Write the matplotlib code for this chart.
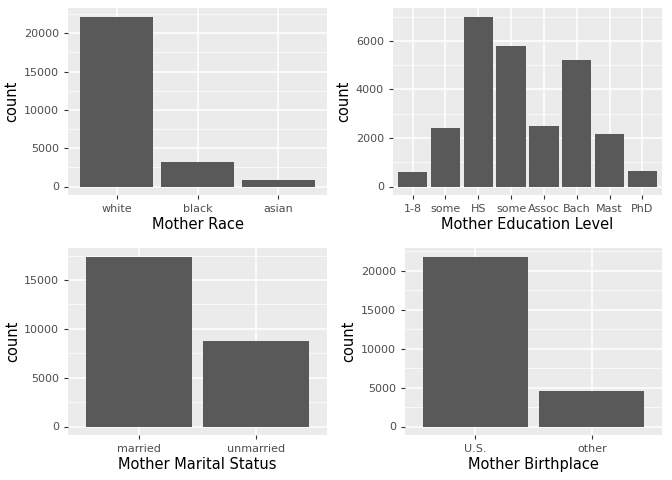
import matplotlib
matplotlib.use('Agg')
import matplotlib.pyplot as plt
import numpy as np

race_labels = ['white', 'black', 'asian']
race_counts = [22200, 3200, 800]
edu_labels = ['1-8', 'some', 'HS', 'some', 'Assoc', 'Bach', 'Mast', 'PhD']
edu_counts = [600, 2400, 7000, 5800, 2500, 5200, 2150, 650]
mar_labels = ['married', 'unmarried']
mar_counts = [17400, 8800]
birth_labels = ['U.S.', 'other']
birth_counts = [21800, 4500]

W, H = 672, 480
fig = plt.figure(figsize=(6.72, 4.8), dpi=100)

def panel(rect, labels, counts, xlabel, step):
    x0, y0, x1, y1 = rect
    ax = fig.add_axes([x0 / W, 1 - y1 / H, (x1 - x0) / W, (y1 - y0) / H])
    ax.set_facecolor('#EBEBEB')
    pos = np.arange(len(labels))
    ax.bar(pos, counts, width=0.9, color='#595959', zorder=3)
    top = max(counts)
    ax.set_ylim(-0.05 * top, 1.05 * top)
    ax.set_xlim(-0.6, len(labels) - 0.4)
    ticks = np.arange(0, top + 1, step)
    ax.set_yticks(ticks)
    ax.set_yticks(np.arange(step / 2, 1.05 * top, step), minor=True)
    ax.set_xticks(pos)
    ax.set_xticklabels(labels)
    ax.grid(True, which='major', color='white', linewidth=1.1, zorder=0)
    ax.grid(True, which='minor', axis='y', color='white', linewidth=0.5, zorder=0)
    for s in ax.spines.values():
        s.set_visible(False)
    ax.tick_params(which='both', length=0)
    ax.tick_params(which='major', length=3, color='#333333', labelsize=8, labelcolor='#4D4D4D')
    ax.tick_params(which='minor', length=0)
    ax.set_xlabel(xlabel, fontsize=10.5, labelpad=2)
    ax.set_ylabel('count', fontsize=10.5, labelpad=3)
    return ax

panel((68, 8, 327, 195), race_labels, race_counts, 'Mother Race', 5000)
panel((393, 8, 662, 195), edu_labels, edu_counts, 'Mother Education Level', 2000)
panel((68, 248, 327, 435), mar_labels, mar_counts, 'Mother Marital Status', 5000)
panel((405, 248, 662, 435), birth_labels, birth_counts, 'Mother Birthplace', 5000)

fig.savefig('out.png', dpi=100)
